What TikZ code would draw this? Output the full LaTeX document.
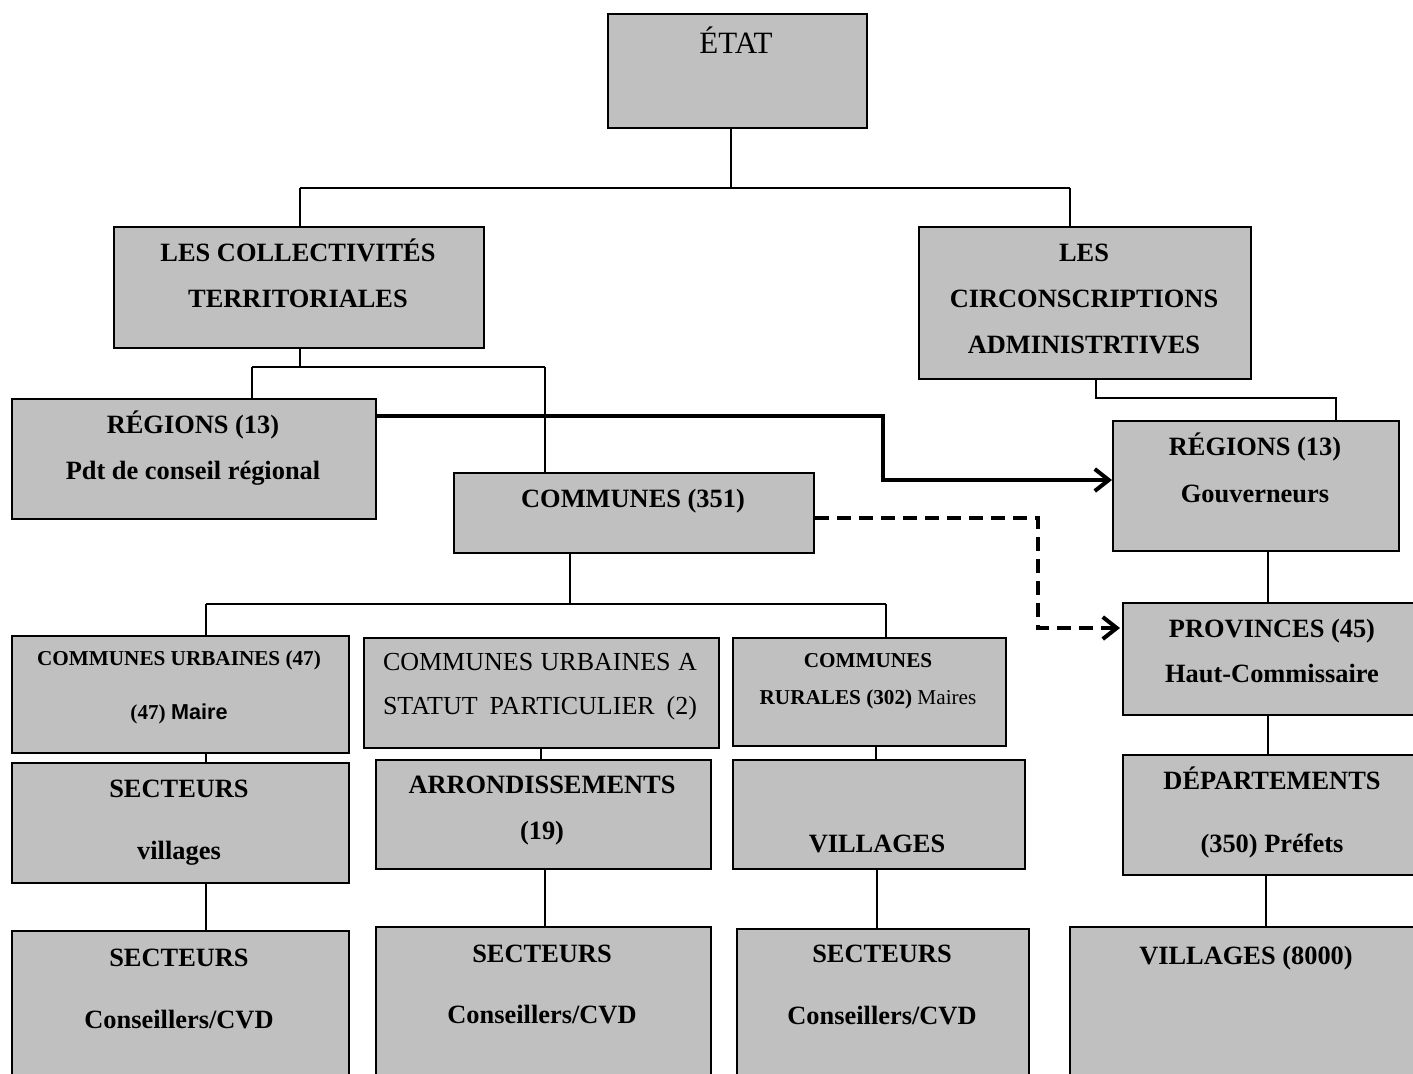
\documentclass[tikz,border=0pt]{standalone}
\usepackage{fontspec}
\setmainfont{Liberation Serif}
\newfontfamily\sansf{Liberation Sans}
\usetikzlibrary{arrows.meta}
\definecolor{boxgray}{HTML}{C0C0C0}
\tikzset{
  box/.style={draw=black, fill=boxgray, line width=1pt, inner sep=0pt, anchor=north west},
  txt/.style={anchor=base, inner sep=0pt, font=\fontsize{13.2}{16}\selectfont\bfseries},
  txtr/.style={anchor=base, inner sep=0pt, font=\fontsize{13}{16}\selectfont},
  txts/.style={anchor=base, inner sep=0pt, font=\fontsize{10.6}{13}\selectfont\bfseries},
  conn/.style={line width=1pt},
  thick arrow/.style={line width=2pt, -{Straight Barb[length=7pt,width=11pt]}},
  dash arrow/.style={line width=2pt, dash pattern=on 7pt off 4pt, -{Straight Barb[length=7pt,width=11pt]}},
}
\begin{document}
\begin{tikzpicture}[x=0.5pt,y=-0.5pt]
\useasboundingbox (0,0) rectangle (1413,1073);
\clip (0,0) rectangle (1413,1073);
% boxes
\node[box, minimum width=129.5pt, minimum height=57pt] (etat) at (607,13) {};
\node[box, minimum width=185pt, minimum height=60.5pt] (coll) at (113,226) {};
\node[box, minimum width=166pt, minimum height=76pt] (circ) at (918,226) {};
\node[box, minimum width=182pt, minimum height=60pt] (regL) at (11,398) {};
\node[box, minimum width=180pt, minimum height=40pt] (comm) at (453,472) {};
\node[box, minimum width=143pt, minimum height=65pt] (regR) at (1112,420) {};
\node[box, minimum width=148pt, minimum height=56pt] (prov) at (1122,602) {};
\node[box, minimum width=149pt, minimum height=60pt] (dep) at (1122,754) {};
\node[box, minimum width=175.5pt, minimum height=77pt] (vil8) at (1069,926) {};
\node[box, minimum width=168.5pt, minimum height=58.5pt] (cu) at (11,635) {};
\node[box, minimum width=177.5pt, minimum height=55pt] (cusp) at (363,637) {};
\node[box, minimum width=136.5pt, minimum height=54pt] (cr) at (732,637) {};
\node[box, minimum width=168.5pt, minimum height=60pt] (sectv) at (11,762) {};
\node[box, minimum width=167.5pt, minimum height=54.5pt] (arr) at (375,759) {};
\node[box, minimum width=146pt, minimum height=54.5pt] (vill) at (732,759) {};
\node[box, minimum width=168.5pt, minimum height=75pt] (s1) at (11,930) {};
\node[box, minimum width=167.5pt, minimum height=77pt] (s2) at (375,926) {};
\node[box, minimum width=146pt, minimum height=76pt] (s3) at (736,928) {};
% junction coordinates
\coordinate (j1) at (731,188);
\coordinate (j1l) at (300,188);
\coordinate (j1r) at (1070,188);
\coordinate (j2) at (300,367);
\coordinate (j2l) at (252,367);
\coordinate (j2r) at (545,367);
\coordinate (j3) at (1096,398);
\coordinate (j3r) at (1336,398);
\coordinate (j4) at (570,604);
\coordinate (j4l) at (206,604);
\coordinate (j4r) at (886,604);
\coordinate (a1) at (883,416);
\coordinate (a2) at (883,480);
\coordinate (d1) at (1038,518);
\coordinate (d2) at (1038,628);
% connectors
\draw[conn] (etat.south -| j1) -- (j1);
\draw[conn] (j1l) -- (j1r);
\draw[conn] (j1l) -- (coll.north -| j1l);
\draw[conn] (j1r) -- (circ.north -| j1r);
\draw[conn] (coll.south -| j2) -- (j2);
\draw[conn] (j2l) -- (j2r);
\draw[conn] (j2l) -- (regL.north -| j2l);
\draw[conn] (j2r) -- (comm.north -| j2r);
\draw[conn] (circ.south -| j3) -- (j3) -- (j3r) -- (regR.north -| j3r);
\draw[conn] (regR.south -| 1268,0) -- (prov.north -| 1268,0);
\draw[conn] (prov.south -| 1268,0) -- (dep.north -| 1268,0);
\draw[conn] (dep.south -| 1266,0) -- (vil8.north -| 1266,0);
\draw[conn] (comm.south -| j4) -- (j4);
\draw[conn] (j4l) -- (j4r);
\draw[conn] (j4l) -- (cu.north -| j4l);
\draw[conn] (j4r) -- (cr.north -| j4r);
\draw[conn] (cu.south -| 206,0) -- (sectv.north -| 206,0);
\draw[conn] (cusp.south -| 541,0) -- (arr.north -| 541,0);
\draw[conn] (cr.south -| 876,0) -- (vill.north -| 876,0);
\draw[conn] (sectv.south -| 206,0) -- (s1.north -| 206,0);
\draw[conn] (arr.south -| 545,0) -- (s2.north -| 545,0);
\draw[conn] (vill.south -| 877,0) -- (s3.north -| 877,0);
\draw[thick arrow] (regL.east |- a1) -- (a1) -- (a2) -- (regR.west |- a2);
\draw[dash arrow] (comm.east |- d1) -- (d1) -- (d2) -- ([xshift=-1pt]prov.west |- d2);
% texts
\node[anchor=base, inner sep=0pt, font=\fontsize{15.5}{18}\selectfont] (tetat) at (736,53) {ÉTAT};
\node[txt] (tc1) at (298,261) {LES COLLECTIVITÉS};
\node[txt] (tc2) at (298,307) {TERRITORIALES};
\node[txt] (tr1) at (1084,261) {LES};
\node[txt] (tr2) at (1084,307) {CIRCONSCRIPTIONS};
\node[txt] (tr3) at (1084,353) {ADMINISTRTIVES};
\node[txt] (tl1) at (193,433) {RÉGIONS (13)};
\node[txt] (tl2) at (193,479) {Pdt de conseil régional};
\node[txt] (tcm) at (633,507) {COMMUNES (351)};
\node[txt] (tg1) at (1255,455) {RÉGIONS (13)};
\node[txt] (tg2) at (1255,502) {Gouverneurs};
\node[txt] (tp1) at (1272,637) {PROVINCES (45)};
\node[txt] (tp2) at (1272,682) {Haut-Commissaire};
\node[txt] (td1) at (1272,789) {DÉPARTEMENTS};
\node[txt] (td2) at (1272,852) {(350) Préfets};
\node[txt] (tv8) at (1246,964) {VILLAGES (8000)};
\node[txts] (tu1) at (179,665) {COMMUNES URBAINES (47)};
\node[txts] (tu2) at (179,719) {(47) {\sansf\bfseries\fontsize{10.8}{13}\selectfont Maire}};
\node[txtr] (tsp1) at (540,670) {\makebox[157pt][s]{COMMUNES\hfill URBAINES\hfill A}};
\node[txtr] (tsp2) at (540,714) {\makebox[157pt][s]{STATUT\hfill PARTICULIER\hfill (2)}};
\node[txts] (trr1) at (868,667) {COMMUNES};
\node[txts] (trr2) at (868,704) {RURALES (302) \mdseries Maires};
\node[txt] (tsv1) at (179,797) {SECTEURS};
\node[txt] (tsv2) at (179,859) {villages};
\node[txt] (ta1) at (542,793) {ARRONDISSEMENTS};
\node[txt] (ta2) at (542,839) {(19)};
\node[txt] (tvl) at (877,852) {VILLAGES};
\node[txt] (ts11) at (179,966) {SECTEURS};
\node[txt] (ts12) at (179,1028) {Conseillers/CVD};
\node[txt] (ts21) at (542,962) {SECTEURS};
\node[txt] (ts22) at (542,1023) {Conseillers/CVD};
\node[txt] (ts31) at (882,962) {SECTEURS};
\node[txt] (ts32) at (882,1024) {Conseillers/CVD};
\end{tikzpicture}
\end{document}
